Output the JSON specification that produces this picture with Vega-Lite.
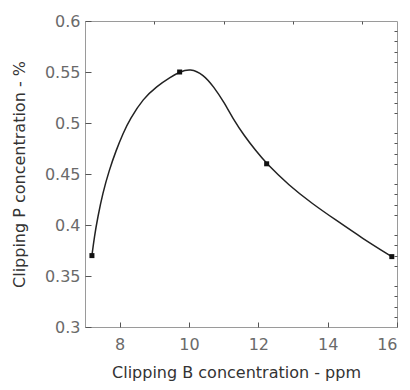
{
  "$schema": "https://vega.github.io/schema/vega-lite/v6.json",
  "width": 312,
  "height": 306,
  "autosize": "none",
  "padding": {"left": 85, "top": 21, "right": 13, "bottom": 63},
  "background": "white",
  "config": {
    "view": {"stroke": "#9a9a9a", "strokeWidth": 1},
    "axis": {
      "grid": false,
      "domain": false,
      "zindex": 1,
      "ticks": true,
      "tickColor": "#555555",
      "tickWidth": 1,
      "labelFont": "DejaVu Sans",
      "titleFont": "DejaVu Sans",
      "labelColor": "#6a6a6a",
      "titleColor": "#333333",
      "labelFontSize": 16,
      "titleFontSize": 16,
      "titleFontWeight": "normal"
    }
  },
  "datasets": {
    "curve": [
      {"x": 7.2, "y": 0.37},
      {"x": 7.27, "y": 0.3885},
      {"x": 7.37, "y": 0.408},
      {"x": 7.51, "y": 0.431},
      {"x": 7.7, "y": 0.454},
      {"x": 7.896, "y": 0.473},
      {"x": 8.098, "y": 0.49},
      {"x": 8.3, "y": 0.504},
      {"x": 8.68, "y": 0.524},
      {"x": 9.07, "y": 0.536},
      {"x": 9.46, "y": 0.545},
      {"x": 9.73, "y": 0.55},
      {"x": 10.03, "y": 0.5536},
      {"x": 10.42, "y": 0.5475},
      {"x": 10.71, "y": 0.5356},
      {"x": 11.0, "y": 0.5209},
      {"x": 11.29, "y": 0.503},
      {"x": 11.58, "y": 0.4882},
      {"x": 11.91, "y": 0.4735},
      {"x": 12.24, "y": 0.46},
      {"x": 12.88, "y": 0.439},
      {"x": 13.55, "y": 0.421},
      {"x": 14.23, "y": 0.405},
      {"x": 15.0, "y": 0.387},
      {"x": 15.85, "y": 0.369}
    ],
    "points": [
      {"x": 7.2, "y": 0.37},
      {"x": 9.73, "y": 0.55},
      {"x": 12.24, "y": 0.46},
      {"x": 15.85, "y": 0.369}
    ]
  },
  "layer": [
    {
      "data": {"name": "curve"},
      "mark": {"type": "line", "interpolate": "basis", "color": "#222222", "strokeWidth": 1.5},
      "encoding": {
        "x": {
          "field": "x", "type": "quantitative",
          "scale": {"domain": [7, 16], "nice": false, "zero": false},
          "axis": {"values": [8, 10, 12, 14, 16], "offset": -5, "tickSize": 5, "labelPadding": 9, "title": "Clipping B concentration - ppm", "titlePadding": 12, "titleX": 151}
        },
        "y": {
          "field": "y", "type": "quantitative",
          "scale": {"domain": [0.3, 0.6], "nice": false, "zero": false},
          "axis": {"values": [0.3, 0.35, 0.4, 0.45, 0.5, 0.55, 0.6], "format": ".2~f", "offset": -6, "tickSize": 6, "labelPadding": 5, "title": "Clipping P concentration - %", "titlePadding": 17}
        }
      }
    },
    {
      "data": {"name": "points"},
      "mark": {"type": "point", "shape": "square", "filled": true, "size": 25, "color": "#111111", "opacity": 1},
      "encoding": {
        "x": {
          "field": "x", "type": "quantitative",
          "axis": {"values": [9, 11, 13, 15], "labels": false, "title": null, "offset": -3, "tickSize": 3}
        },
        "y": {
          "field": "y", "type": "quantitative",
          "axis": {"values": [0.31, 0.32, 0.33, 0.34, 0.36, 0.37, 0.38, 0.39, 0.41, 0.42, 0.43, 0.44, 0.46, 0.47, 0.48, 0.49, 0.51, 0.52, 0.53, 0.54, 0.56, 0.57, 0.58, 0.59], "labels": false, "title": null, "offset": -3, "tickSize": 3}
        }
      }
    }
  ],
  "resolve": {"axis": {"x": "independent", "y": "independent"}}
}
